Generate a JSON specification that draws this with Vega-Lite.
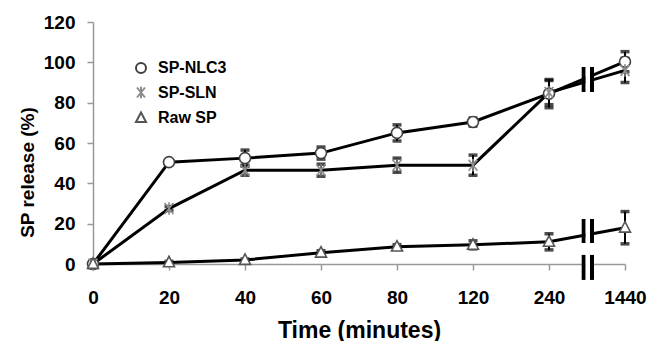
{
  "$schema": "https://vega.github.io/schema/vega-lite/v6.json",
  "width": 532,
  "height": 242,
  "autosize": {"type": "none"},
  "padding": {"left": 93, "top": 22, "right": 24, "bottom": 77},
  "background": "white",
  "config": {
    "view": {"stroke": null},
    "font": "Liberation Sans"
  },
  "datasets": {
    "pts": [
      {"series": "SP-NLC3", "minutes": 0, "value": 0, "err": 0},
      {"series": "SP-NLC3", "minutes": 20, "value": 50.5, "err": 1},
      {"series": "SP-NLC3", "minutes": 40, "value": 52.5, "err": 4},
      {"series": "SP-NLC3", "minutes": 60, "value": 55, "err": 3},
      {"series": "SP-NLC3", "minutes": 80, "value": 65, "err": 4},
      {"series": "SP-NLC3", "minutes": 120, "value": 70.4, "err": 2},
      {"series": "SP-NLC3", "minutes": 240, "value": 84.5, "err": 7},
      {"series": "SP-NLC3", "minutes": 1440, "value": 100.3, "err": 5},
      {"series": "SP-SLN", "minutes": 0, "value": 0, "err": 0},
      {"series": "SP-SLN", "minutes": 20, "value": 27.5, "err": 1},
      {"series": "SP-SLN", "minutes": 40, "value": 46.5, "err": 2.5},
      {"series": "SP-SLN", "minutes": 60, "value": 46.5, "err": 3},
      {"series": "SP-SLN", "minutes": 80, "value": 49, "err": 3.5},
      {"series": "SP-SLN", "minutes": 120, "value": 49, "err": 5},
      {"series": "SP-SLN", "minutes": 240, "value": 85, "err": 6},
      {"series": "SP-SLN", "minutes": 1440, "value": 96, "err": 6},
      {"series": "Raw SP", "minutes": 0, "value": 0, "err": 0},
      {"series": "Raw SP", "minutes": 20, "value": 0.8, "err": 0.5},
      {"series": "Raw SP", "minutes": 40, "value": 2, "err": 0.5},
      {"series": "Raw SP", "minutes": 60, "value": 5.6, "err": 1},
      {"series": "Raw SP", "minutes": 80, "value": 8.6, "err": 1},
      {"series": "Raw SP", "minutes": 120, "value": 9.5, "err": 2},
      {"series": "Raw SP", "minutes": 240, "value": 11, "err": 4},
      {"series": "Raw SP", "minutes": 1440, "value": 18, "err": 8}
    ],
    "breaks": [
      {"part": "bar", "minutes": 756, "minutes2": 819, "value": 85.3, "value2": 97.7},
      {"part": "gap", "minutes": 819, "minutes2": 887, "value": 85.3, "value2": 97.7},
      {"part": "bar", "minutes": 887, "minutes2": 951, "value": 85.3, "value2": 97.7},
      {"part": "bar", "minutes": 756, "minutes2": 819, "value": 10.4, "value2": 22.3},
      {"part": "gap", "minutes": 819, "minutes2": 887, "value": 10.4, "value2": 22.3},
      {"part": "bar", "minutes": 887, "minutes2": 951, "value": 10.4, "value2": 22.3},
      {"part": "bar", "minutes": 756, "minutes2": 819, "value": -7.9, "value2": 4.5},
      {"part": "gap", "minutes": 819, "minutes2": 887, "value": -7.9, "value2": 4.5},
      {"part": "bar", "minutes": 887, "minutes2": 951, "value": -7.9, "value2": 4.5}
    ]
  },
  "layer": [
    {
      "data": {"name": "pts"},
      "mark": {"type": "line", "color": "black", "strokeWidth": 3},
      "encoding": {
        "x": {
          "field": "minutes", "type": "quantitative", "title": "Time (minutes)",
          "scale": {"domain": [0, 20, 40, 60, 80, 120, 240, 1440], "range": [0, 76, 152, 228, 304, 380, 456, 532], "nice": false, "zero": false},
          "axis": {
            "title": "Time (minutes)",
            "values": [0, 20, 40, 60, 80, 120, 240, 1440],
            "format": "d",
            "grid": false,
            "domainColor": "#999999",
            "domainWidth": 1.5,
            "tickColor": "#999999",
            "tickWidth": 1.5,
            "tickSize": 6,
            "labelFont": "Liberation Sans",
            "labelFontSize": 19,
            "labelFontWeight": "bold",
            "labelColor": "black",
            "labelBaseline": "alphabetic",
            "labelPadding": 33,
            "labelFlush": false,
            "labelOverlap": false,
            "titleFont": "Liberation Sans",
            "titleFontSize": 23,
            "titleFontWeight": "bold",
            "titleColor": "black",
            "titleBaseline": "alphabetic",
            "titleY": 73
          }
        },
        "y": {
          "field": "value", "type": "quantitative", "title": "SP release (%)",
          "scale": {"domain": [0, 120], "nice": false},
          "axis": {
            "title": "SP release (%)",
            "values": [0, 20, 40, 60, 80, 100, 120],
            "grid": false,
            "domainColor": "#999999",
            "domainWidth": 1.5,
            "tickColor": "#999999",
            "tickWidth": 1.5,
            "tickSize": 6,
            "labelFont": "Liberation Sans",
            "labelFontSize": 19,
            "labelFontWeight": "bold",
            "labelColor": "black",
            "labelPadding": 12,
            "labelFlush": false,
            "labelOverlap": false,
            "titleFont": "Liberation Sans",
            "titleFontSize": 19,
            "titleFontWeight": "bold",
            "titleColor": "black",
            "titleBaseline": "alphabetic",
            "titleAngle": -90,
            "titleX": -60,
            "titleY": 150
          }
        },
        "detail": {"field": "series"}
      }
    },
    {
      "data": {"name": "pts"},
      "transform": [{"filter": "datum.err > 0"}],
      "mark": {
        "type": "errorbar",
        "ticks": {"size": 9, "thickness": 3.5, "color": "black"},
        "rule": {"strokeWidth": 2, "color": "black"}
      },
      "encoding": {
        "x": {"field": "minutes", "type": "quantitative", "title": "Time (minutes)"},
        "y": {"field": "value", "type": "quantitative", "title": "SP release (%)"},
        "yError": {"field": "err"}
      }
    },
    {
      "data": {"name": "pts"},
      "mark": {"type": "point", "filled": true, "fill": "white", "strokeWidth": 1.6, "size": 121, "opacity": 1},
      "encoding": {
        "x": {"field": "minutes", "type": "quantitative", "title": "Time (minutes)"},
        "y": {"field": "value", "type": "quantitative", "title": "SP release (%)"},
        "shape": {
          "field": "series", "type": "nominal",
          "scale": {
            "domain": ["SP-NLC3", "SP-SLN", "Raw SP"],
            "range": [
              "M1,0A1,1 0 1,1 -1,0A1,1 0 1,1 1,0Z",
              "M-0.8,-1L0.8,1M-0.8,1L0.8,-1M0,-1.15V1.15",
              "M0,-1.1L1,0.8L-1,0.8Z"
            ]
          },
          "legend": {
            "orient": "none",
            "legendX": 40,
            "legendY": 38,
            "title": null,
            "padding": 0,
            "symbolSize": 100,
            "symbolStrokeWidth": 2,
            "labelOffset": 9,
            "labelFont": "Liberation Sans",
            "labelFontSize": 16,
            "labelFontWeight": "bold",
            "labelColor": "black",
            "rowPadding": 5.5
          }
        },
        "stroke": {
          "field": "series", "type": "nominal",
          "scale": {"domain": ["SP-NLC3", "SP-SLN", "Raw SP"], "range": ["#404040", "#8c8c8c", "#555555"]},
          "legend": null
        }
      }
    },
    {
      "data": {"name": "breaks"},
      "mark": {"type": "rect", "clip": false},
      "encoding": {
        "x": {"field": "minutes", "type": "quantitative", "title": "Time (minutes)"},
        "x2": {"field": "minutes2"},
        "y": {"field": "value", "type": "quantitative", "title": "SP release (%)"},
        "y2": {"field": "value2"},
        "color": {
          "field": "part", "type": "nominal",
          "scale": {"domain": ["bar", "gap"], "range": ["black", "white"]},
          "legend": null
        }
      }
    }
  ]
}
